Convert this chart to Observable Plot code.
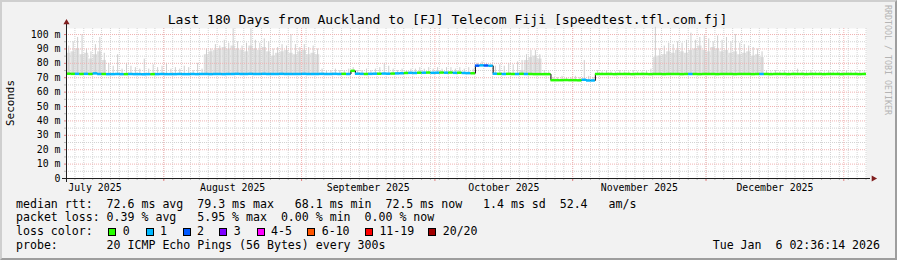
<!DOCTYPE html>
<html>
<head>
<meta charset="utf-8">
<script src="https://cdn.jsdelivr.net/npm/d3@7"></script>
<script src="https://cdn.jsdelivr.net/npm/@observablehq/plot@0.6"></script>
<style>
  html, body { margin: 0; padding: 0; background: #f2f2f2; }
  #wrap { position: relative; width: 897px; height: 260px; background: #f2f2f2; overflow: hidden;
          font-family: "DejaVu Sans Mono", monospace; color: #000; }
  #chart { position: absolute; left: 0; top: 0; }
  .abs { position: absolute; white-space: pre; line-height: 1; }
  #title { left: 0; width: 895px; text-align: center; top: 12.9px; font-size: 13.1px; }
  .leg { left: 16px; font-size: 11.58px; }
  #ylab { font-size: 10.9px; left: 11px; top: 103px; transform: translate(-50%, -50%) rotate(-90deg); }
  #wm { font-size: 8.3px; color: #b4b4b4; writing-mode: vertical-rl; left: 884px; top: 5px; }
  .sw { position: absolute; width: 8px; height: 8px; box-sizing: border-box; border: 1px solid #000; }
  #frame { position: absolute; left: 0; top: 0; width: 897px; height: 260px; box-sizing: border-box;
           border-top: 2px solid #cfcfcf; border-left: 2px solid #cfcfcf;
           border-right: 2px solid #9e9e9e; border-bottom: 2px solid #9e9e9e; pointer-events: none; }
</style>
</head>
<body>
<div id="wrap">
  <div id="chart"></div>
  <div id="title" class="abs"></div>
  <div id="ylab" class="abs">Seconds</div>
  <div id="wm" class="abs">RRDTOOL / TOBI OETIKER</div>
  <div id="legend"></div>
  <div id="frame"></div>
</div>
<script>
// ---------------- data ----------------
const titleText = "Last 180 Days from Auckland to [FJ] Telecom Fiji [speedtest.tfl.com.fj]";
const startTime = "2025-07-10T02:36:14Z";
const endTime = "2026-01-06T02:36:14Z";
const yMax = 104.2; // ms at top of canvas

// daily median RTT (ms), 180 days
const medianRtt = [
  72.8,72.7,72.7,72.6,72.7,72.6,73.0,72.6,72.6,72.5,
  72.5,72.6,72.5,72.5,72.6,72.5,72.5,72.4,72.5,72.5,
  72.5,72.6,72.5,72.5,72.5,72.6,72.5,72.5,72.6,72.5,
  72.6,72.6,72.5,72.6,72.6,72.5,72.6,72.6,72.7,72.6,
  72.6,72.7,72.6,72.6,72.7,72.6,72.6,72.6,72.7,72.6,
  72.6,72.6,72.6,72.7,72.6,72.6,72.6,72.7,72.6,72.6,
  72.7,72.6,72.7,72.6,74.8,72.8,72.7,72.6,72.7,72.8,
  72.8,72.9,72.8,72.9,73.0,73.1,73.3,73.4,73.3,73.5,
  73.5,73.6,73.4,73.5,73.6,73.5,73.6,73.4,73.5,73.3,
  73.2,73.1,78.4,78.6,78.5,78.3,72.8,72.7,72.6,72.7,
  72.6,72.6,72.7,72.6,72.6,72.5,72.5,72.5,72.5,68.3,
  68.3,68.3,68.4,68.3,68.3,68.2,68.6,68.1,68.1,72.6,
  72.6,72.6,72.6,72.5,72.6,72.6,72.6,72.5,72.6,72.6,
  72.6,72.5,72.6,72.6,72.5,72.6,72.6,72.6,72.5,72.6,
  72.6,72.6,72.5,72.6,72.6,72.6,72.5,72.6,72.6,72.6,
  72.5,72.6,72.6,72.6,72.5,72.6,72.6,72.6,72.5,72.6,
  72.6,72.6,72.5,72.6,72.6,72.6,72.5,72.6,72.6,72.6,
  72.5,72.6,72.6,72.6,72.5,72.6,72.6,72.6,72.5,72.6
];
// daily lost pings (of 20)
const lostPings = [
  0,0,1,0,1,0,1,1,0,1,
  1,1,1,0,1,1,1,1,1,0,
  1,1,1,1,1,1,1,1,1,1,
  1,1,1,1,1,1,1,1,1,1,
  1,1,1,1,1,1,1,1,1,1,
  1,1,1,1,1,1,1,1,1,1,
  1,1,0,1,0,1,1,0,1,1,
  0,1,1,0,1,1,0,1,1,0,
  1,0,1,1,0,1,0,1,0,1,
  1,0,2,1,2,1,1,0,1,0,
  0,1,0,1,0,0,0,0,0,0,
  0,0,0,0,0,0,1,1,1,0,
  0,0,0,0,0,0,0,0,0,0,
  0,0,0,0,0,0,0,0,0,0,
  1,0,0,0,0,0,0,0,0,0,
  0,0,0,0,0,0,1,0,0,0,
  0,0,0,0,0,0,0,0,0,0,
  0,0,0,0,0,0,0,0,0,0
];
// dense smoke top (ms) per day, null = none
const smokeBody = [
  87,88,90,86,87,83,86,88,82,null,
  null,null,null,null,null,null,null,null,null,null,
  null,null,null,null,null,null,null,null,null,null,
  null,86,88,89,90,91,90,92,90,89,
  88,92,90,89,91,88,85,87,88,89,
  87,86,88,89,86,87,86,null,null,null,
  null,null,null,null,null,null,null,null,null,null,
  null,null,null,null,null,null,null,null,null,null,
  null,null,null,null,null,null,null,null,null,null,
  null,null,null,null,null,null,null,null,null,null,
  null,null,75,82,84,85,83,null,null,null,
  null,null,null,null,null,null,null,null,null,null,
  null,null,null,null,null,null,null,null,null,null,
  null,null,84,85,86,88,87,89,88,87,
  89,90,92,89,88,91,90,88,89,87,
  88,86,87,88,85,86,84,null,null,null,
  null,null,null,null,null,null,null,null,null,null,
  null,null,null,null,null,null,null,null,null,null
];
// highest ping (smoke spike, ms) per day
const smokeSpike = [
  92,95,98,100,90,88,93,98,87,80,
  78,86,76,80,78,77,76,83,76,79,
  77,78,80,76,77,76,78,77,75,80,
  76,90,90,93,92,96,94,104,95,92,
  94,104,96,94,97,95,90,91,93,92,
  100,93,91,93,91,92,90,76,75,75,
  76,75,75,76,77,75,75,76,75,76,
  77,80,78,76,75,76,75,76,76,77,
  76,77,76,77,76,77,77,76,77,76,
  77,76,80,81,80,79,78,79,78,80,
  79,81,82,86,89,89,86,75,74,70,
  70,71,70,70,71,70,82,71,70,75,
  74,75,74,74,75,74,74,75,74,74,
  75,76,105,90,92,94,93,95,94,96,
  101,96,98,99,97,95,99,96,98,95,
  100,94,93,92,91,90,88,75,74,75,
  74,75,74,74,76,74,74,75,74,74,
  74,75,74,74,74,75,74,74,75,74
];
const monthStarts = ["2025-07-01","2025-08-01","2025-09-01","2025-10-01","2025-11-01","2025-12-01","2026-01-01"];
const monthLabels = ["July 2025","August 2025","September 2025","October 2025","November 2025","December 2025"];
const yMajorTicks = [0,10,20,30,40,50,60,70,80,90,100];
const yMinorTicks = [5,15,25,35,45,55,65,75,85,95];
const minorGridDays = 2;
const minorGridAnchor = "2025-07-10T00:00:00Z";

const lossLabels = ["0","1","2","3","4-5","6-10","11-19","20/20"];
const lossColors = ["#26ff00","#00b8ff","#0059ff","#7e00ff","#ff00ff","#ff5500","#ff0000","#a10000"];
const lossUpper = [0,1,2,3,5,10,19,20];

const rttStats = ["72.6","79.3","68.1","72.5"];
const rttSd = "1.4";
const rttAms = "52.4";
const lossStats = ["0.39","5.95","0.00","0.00"];
const probeText = "20 ICMP Echo Pings (56 Bytes) every 300s";
const stampText = "Tue Jan  6 02:36:14 2026";

// ---------------- build ----------------
const DAY = 864e5;
const start = new Date(startTime), end = new Date(endTime);
const days = medianRtt.map((m, i) => ({
  t0: new Date(+start + i * DAY),
  t1: new Date(+start + (i + 1) * DAY),
  tm: new Date(+start + (i + 0.5) * DAY),
  median: m,
  color: lossColors[lossUpper.findIndex(u => lostPings[i] <= u)],
  body: smokeBody[i],
  spike: smokeSpike[i]
}));
const mStarts = monthStarts.map(s => new Date(s + "T00:00:00Z"));
const mMids = monthLabels.map((_, i) => new Date((+mStarts[i] + +mStarts[i + 1]) / 2));
const mGrid = mStarts.filter(d => d > start && d < end);
const xMinor = [];
for (let t = +new Date(minorGridAnchor); t < +end; t += minorGridDays * DAY) if (t > +start) xMinor.push(new Date(t));

const gridColor = "#d3d3d3";
const mgridColor = "#f0b2b2";
const dash = "1,1";

const chart = Plot.plot({
  width: 897, height: 196,
  marginLeft: 66, marginRight: 31, marginTop: 28, marginBottom: 18,
  x: {type: "utc", domain: [start, end]},
  y: {domain: [0, yMax]},
  style: {background: "transparent", fontFamily: "DejaVu Sans Mono", fontSize: "9.85px", color: "#000", overflow: "visible"},
  marks: [
    Plot.frame({fill: "white", stroke: null}),
    Plot.rectY(days.filter(d => d.body != null), {x1: "t0", x2: "t1", y1: "median", y2: "body", fill: "#e0e0e0"}),
    Plot.ruleX(days.filter(d => d.spike != null), {x: "tm", y1: "median", y2: "spike", stroke: "#cdcdcd", strokeWidth: 1}),
    Plot.ruleY(yMinorTicks, {stroke: gridColor, strokeDasharray: dash}),
    Plot.ruleX(xMinor, {stroke: gridColor, strokeDasharray: dash}),
    Plot.ruleY(yMajorTicks.filter(v => v > 0), {stroke: mgridColor, strokeDasharray: dash}),
    Plot.ruleX(mGrid, {stroke: mgridColor, strokeDasharray: dash}),
    Plot.line(days, {x: "t0", y: "median", curve: "step-after", stroke: "#000", strokeWidth: 1}),
    Plot.ruleY(days, {x1: "t0", x2: "t1", y: "median", stroke: "color", strokeWidth: 2.5}),
    // axes ticks
    Plot.axisY(yMinorTicks, {tickSize: 2, tickFormat: () => "", stroke: "#b8b8b8"}),
    Plot.axisY(yMajorTicks, {tickSize: 2, tickPadding: 4, stroke: "#e08080",
      tickFormat: v => v === 0 ? "0" : `${v} m`}),
    Plot.axisX(xMinor, {tickSize: 2, tickFormat: () => "", stroke: "#b8b8b8"}),
    Plot.axisX(mGrid, {tickSize: 3, tickFormat: () => "", stroke: "#e08080"}),
    Plot.axisX(mMids, {tickSize: 0, tickPadding: 5.5, tickFormat: (d, i) => monthLabels[i]}),
    // axis lines and arrows
    Plot.ruleY([0], {stroke: "#1f1f1f", insetLeft: -4, insetRight: -4}),
    Plot.ruleX([start], {stroke: "#1f1f1f", insetTop: -4, insetBottom: -4}),
    Plot.dot([0], {frameAnchor: "bottom-right", dx: 7, symbol: "triangle", rotate: 90, r: 2.3, fill: "#801f1f", stroke: null}),
    Plot.dot([0], {frameAnchor: "top-left", dy: -6, symbol: "triangle", r: 2.3, fill: "#801f1f", stroke: null})
  ]
});
document.getElementById("chart").appendChild(chart);
document.getElementById("title").textContent = titleText;

// ---------------- legend ----------------
const legend = document.getElementById("legend");
function line(text, top, left = 16) {
  const d = document.createElement("div");
  d.className = "abs leg"; d.style.top = top + "px"; d.style.left = left + "px";
  d.textContent = text; legend.appendChild(d); return d;
}
line(`median rtt:  ${rttStats[0]} ms avg  ${rttStats[1]} ms max   ${rttStats[2]} ms min  ${rttStats[3]} ms now   ${rttSd} ms sd  ${rttAms}   am/s`, 198.5);
line(`packet loss: ${lossStats[0]} % avg   ${lossStats[1]} % max  ${lossStats[2]} % min  ${lossStats[3]} % now`, 212.2);
line(`loss color:`, 225.8);
const swX = [108.3, 145.7, 182.7, 219.3, 256.7, 307.3, 365, 428.3];
lossLabels.forEach((lab, i) => {
  const s = document.createElement("div");
  s.className = "sw"; s.style.left = swX[i] + "px"; s.style.top = "227.8px"; s.style.background = lossColors[i];
  legend.appendChild(s);
  line(lab, 225.8, swX[i] + 14.4);
});
line(`probe:       ${probeText}`, 239.5);
const st = line(stampText, 239.5, 0);
st.style.left = "auto"; st.style.right = (897 - 880) + "px";
</script>
</body>
</html>
